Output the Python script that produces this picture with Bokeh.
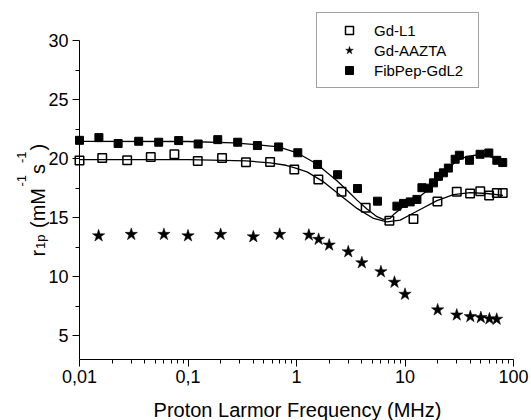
import math
from bokeh.plotting import figure
from bokeh.models import (Range1d, FixedTicker, CustomJSTickFormatter, Legend,
                          LegendItem, Label, LinearAxis, LogAxis, LogScale)
from bokeh.embed import file_html
from bokeh.resources import INLINE

# ---------------- data ----------------
gd_l1_x = [0.01, 0.0162, 0.0275, 0.0454, 0.0749, 0.123, 0.206, 0.342, 0.571, 0.954,
           1.59, 2.6, 4.34, 7.18, 11.97, 19.9, 30, 39.8, 49.4, 59.6, 70.2, 79.6]
gd_l1_y = [19.85, 20.06, 19.87, 20.14, 20.37, 19.81, 20.06, 19.70, 19.72, 19.08,
           18.23, 17.20, 15.84, 14.74, 14.90, 16.38, 17.19, 17.05, 17.25, 16.88, 17.10, 17.10]

aazta_x = [0.015, 0.03, 0.06, 0.1, 0.2, 0.4, 0.7, 1.3, 1.6, 2, 3, 4, 6, 8, 10,
           20, 30, 40, 50, 60, 70]
aazta_y = [13.47, 13.59, 13.59, 13.47, 13.59, 13.39, 13.59, 13.53, 13.17, 12.69, 12.12,
           11.19, 10.43, 9.54, 8.52, 7.20, 6.77, 6.63, 6.55, 6.44, 6.41]

fib_x = [0.01, 0.0151, 0.0227, 0.0351, 0.0537, 0.082, 0.124, 0.188, 0.287, 0.436,
         0.684, 1.028, 1.564, 2.39, 3.65, 5.58, 8.42, 9.69, 11.17, 12.88, 14.32,
         16.45, 18.29, 20.35, 22.6, 25.1, 29.0, 31.7, 39.3, 49.2, 59.2, 70.2, 79.6]
fib_y = [21.55, 21.78, 21.28, 21.47, 21.39, 21.53, 21.24, 21.61, 21.39, 21.11,
         20.99, 20.50, 19.51, 18.64, 17.47, 16.40, 15.98, 16.21, 16.34, 16.55, 17.54,
         17.50, 17.95, 18.50, 18.80, 19.20, 19.95, 20.29, 19.86, 20.37, 20.48, 19.86, 19.67]

# fitted curves
fit_l1_x = [0.01, 0.1, 0.343, 0.571, 0.8, 0.95, 1.25, 1.78, 2.53, 3.61, 5.13, 6.81,
            9.04, 11.17, 13.8, 19.7, 28.0, 39.8, 56.7, 80]
fit_l1_y = [19.92, 19.91, 19.81, 19.64, 19.44, 19.25, 18.88, 18.03, 16.91, 15.79, 14.94,
            14.65, 14.80, 15.25, 15.70, 16.45, 16.95, 17.12, 17.05, 16.90]

fit_fib_x = [0.01, 0.1, 0.262, 0.494, 0.683, 1.017, 1.34, 1.55, 1.92, 2.36, 2.92, 3.61,
             4.46, 5.52, 6.3, 7.3, 7.9, 9.6, 12.9, 18.2, 22.6, 26.2, 30, 37.6, 49.3,
             60, 70, 80]
fit_fib_y = [21.47, 21.45, 21.33, 21.13, 20.99, 20.48, 19.86, 19.53, 18.81, 18.13, 17.33,
             16.49, 15.73, 15.09, 14.86, 14.95, 15.30, 15.93, 16.60, 17.70, 18.70, 19.30,
             19.85, 20.20, 20.35, 20.20, 19.95, 19.65]

series_names = ["Gd-L1", "Gd-AAZTA", "FibPep-GdL2"]

x_tick_values = [0.01, 0.1, 1, 10, 100]
x_tick_labels = ["0,01", "0,1", "1", "10", "100"]
x_minor_values = [m * 10.0 ** e for e in range(-2, 2) for m in range(2, 10)]
y_tick_values = [5, 10, 15, 20, 25, 30]
y_minor_values = [7.5, 12.5, 17.5, 22.5, 27.5]

x_label = "Proton Larmor Frequency (MHz)"
# y label pieces: (text, font size, baseline pixel column, start pixel row)
y_label_parts = [
    ("r", "20px", 37, 256),
    ("1p", "13px", 40, 248.5),
    ("(mM", "20px", 37, 227.5),
    ("-1", "13px", 21, 186),
    ("s", "20px", 37, 173.5),
    ("-1", "13px", 21, 162.5),
    (")", "20px", 37, 150),
]

FONT = "Liberation Sans"

# canvas / frame geometry (pixels)
W, H = 531, 420
CL = 2                               # frame left edge (room for the y label)
AX = 79                              # pixel column of x = 0.01 (y axis)
X_END_PX, AY = 513, 359              # pixel column of x = 100, pixel row of y = 3
X_LO, X_HI = 0.01, 100
Y_LO, Y_HI = 3, 30
Y_HI_PX = 40                         # pixel row of y = 30
px_per_unit = (AY - Y_HI_PX) / (Y_HI - Y_LO)
px_per_decade = (X_END_PX - AX) / math.log10(X_HI / X_LO)


def px_to_x(px):
    return X_LO * 10 ** ((px - AX) / px_per_decade)


def px_to_y(py):
    return Y_LO + (AY - py) / px_per_unit


p = figure(width=W, height=H, x_axis_type="log", title=None,
           x_axis_location=None, y_axis_location=None,
           x_range=Range1d(px_to_x(CL), px_to_x(W)),
           y_range=Range1d(px_to_y(H), px_to_y(0)),
           output_backend="svg", toolbar_location=None,
           min_border_left=CL, min_border_right=0, min_border_top=0,
           min_border_bottom=0)
p.x_scale = LogScale()
p.outline_line_color = None
p.background_fill_color = "white"
p.border_fill_color = "white"

# lines
p.line(fit_l1_x, fit_l1_y, line_color="black", line_width=1.3)
p.line(fit_fib_x, fit_fib_y, line_color="black", line_width=1.3)

# markers
r1 = p.scatter(gd_l1_x, gd_l1_y, marker="square", size=8.5, fill_color=None,
               line_color="black", line_width=1.5)
r2 = p.scatter(aazta_x, aazta_y, marker="star", size=13, fill_color="black",
               line_color="black", line_width=0.5)
r3 = p.scatter(fib_x, fib_y, marker="square", size=8, fill_color="black",
               line_color="black", line_width=1)

# axes (drawn at fixed data locations inside the frame)
xa = LogAxis(fixed_location=Y_LO)
xa.ticker = FixedTicker(ticks=x_tick_values, minor_ticks=x_minor_values)
xa.bounds = (X_LO, X_HI)
xa.formatter = CustomJSTickFormatter(
    args=dict(vals=x_tick_values, labs=x_tick_labels),
    code="""
    for (let i = 0; i < vals.length; i++) {
        if (Math.abs(vals[i] - tick) <= 1e-6 * vals[i]) { return labs[i]; }
    }
    return String(tick).replace('.', ',');
    """)
p.add_layout(xa, "below")

ya = LinearAxis(fixed_location=X_LO)
ya.ticker = FixedTicker(ticks=y_tick_values, minor_ticks=y_minor_values)
ya.bounds = (Y_LO, Y_HI)
p.add_layout(ya, "left")

for ax in (xa, ya):
    ax.axis_line_color = "black"
    ax.axis_line_width = 1
    ax.major_tick_line_color = "black"
    ax.minor_tick_line_color = "black"
    ax.major_tick_out = 7
    ax.major_tick_in = 0
    ax.minor_tick_out = 4
    ax.minor_tick_in = 0
    ax.major_label_text_font = FONT
    ax.major_label_text_font_size = "18px"
    ax.major_label_text_color = "black"

xa.major_label_standoff = 3
ya.major_label_standoff = 4
p.grid.visible = False

# axis titles as text annotations
p.add_layout(Label(x=px_to_x(297), y=px_to_y(409), x_units="data",
                   y_units="data", text=x_label, text_font=FONT,
                   text_font_size="20px", text_align="center",
                   text_baseline="alphabetic", text_color="black"))

for txt, fs, bx, by in y_label_parts:
    p.add_layout(Label(x=px_to_x(bx), y=px_to_y(by), x_units="data", y_units="data",
                       text=txt, angle=math.pi / 2, text_font=FONT,
                       text_font_size=fs, text_align="left",
                       text_baseline="alphabetic", text_color="black"))

legend = Legend(items=[LegendItem(label=series_names[0], renderers=[r1]),
                       LegendItem(label=series_names[1], renderers=[r2]),
                       LegendItem(label=series_names[2], renderers=[r3])],
                location=(316 - CL, H - 88), padding=7, margin=0, spacing=0,
                glyph_width=50, glyph_height=20, label_height=20,
                label_width=97, label_standoff=0,
                label_text_font=FONT, label_text_font_size="15px",
                label_text_font_style="normal",
                label_text_color="black",
                border_line_color="#444444", border_line_width=1,
                background_fill_color="white", background_fill_alpha=1)
p.add_layout(legend)

open("out.html", "w").write(file_html(p, INLINE))
